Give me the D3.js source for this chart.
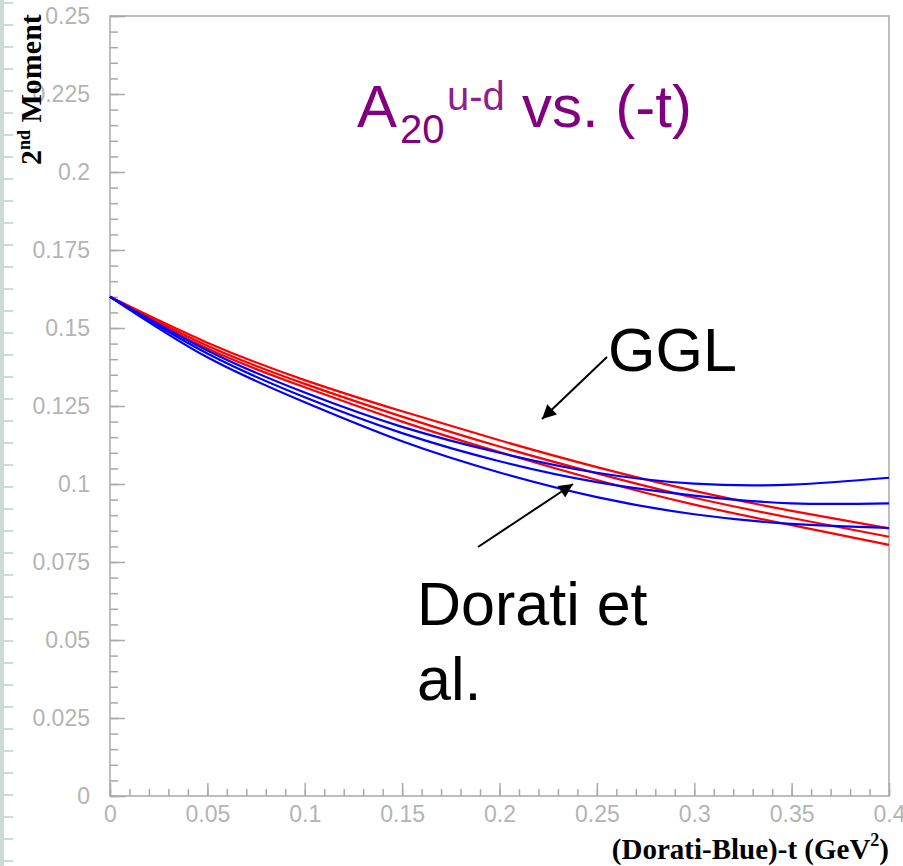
<!DOCTYPE html>
<html>
<head>
<meta charset="utf-8">
<script src="https://cdn.jsdelivr.net/npm/d3@7"></script>
<style>
  html, body { margin: 0; padding: 0; background: #fff; }
  svg { display: block; }
  .tick-label { font-family: 'Liberation Sans', Arial, Helvetica, sans-serif; font-size: 23px; }
</style>
</head>
<body>
<svg id="chart" width="903" height="866"></svg>
<script>
// -t values (GeV^2) where each curve is sampled
const tValues = [0, 0.05, 0.10, 0.15, 0.20, 0.25, 0.30, 0.35, 0.40];

// GGL model band (red)
const gglUpper = [0.160, 0.1453, 0.1333, 0.1233, 0.1140, 0.1054, 0.0978, 0.0914, 0.0858];
const gglMid   = [0.160, 0.1443, 0.1321, 0.1216, 0.1120, 0.1034, 0.0956, 0.0891, 0.0831];
const gglLower = [0.160, 0.1434, 0.1310, 0.1200, 0.1102, 0.1013, 0.0934, 0.0868, 0.0805];

// Dorati et al. band (blue)
const doratiUpper = [0.160, 0.1428, 0.1293, 0.1183, 0.1100, 0.1036, 0.1001, 0.0998, 0.1020];
const doratiMid   = [0.160, 0.1418, 0.1278, 0.1163, 0.1073, 0.1006, 0.0963, 0.0938, 0.0938];
const doratiLower = [0.160, 0.1406, 0.1262, 0.1137, 0.1037, 0.0958, 0.0903, 0.0872, 0.0859];

// Axis ticks
const xMajorTicks = [0, 0.05, 0.1, 0.15, 0.2, 0.25, 0.3, 0.35, 0.4];
const xTickLabels = ["0", "0.05", "0.1", "0.15", "0.2", "0.25", "0.3", "0.35", "0.4"];
const yMajorTicks = [0, 0.025, 0.05, 0.075, 0.1, 0.125, 0.15, 0.175, 0.2, 0.225, 0.25];
const yTickLabels = ["0", "0.025", "0.05", "0.075", "0.1", "0.125", "0.15", "0.175", "0.2", "0.225", "0.25"];

const svg = d3.select("#chart");

const x = d3.scaleLinear().domain([0, 0.4]).range([110, 889]);
const y = d3.scaleLinear().domain([0, 0.25]).range([796, 16]);

const axisColor = "#a9a9a9";
const labelColor = "#b4b4b4";
const sans = "'Liberation Sans', Arial, Helvetica, sans-serif";
const serif = "'Liberation Serif', 'Times New Roman', Times, serif";

// Decorative ruler strip along the left page edge
const strip = svg.append("g").attr("stroke", "#cddbd5");
strip.append("line").attr("x1", 2).attr("x2", 2).attr("y1", 0).attr("y2", 866).attr("stroke-width", 4);
d3.range(3, 866, 22).forEach(yy => {
  strip.append("line").attr("x1", 0).attr("x2", 13).attr("y1", yy).attr("y2", yy).attr("stroke-width", 2);
});

// Frame
svg.append("rect")
  .attr("x", x(0)).attr("y", y(0.25))
  .attr("width", x(0.4) - x(0)).attr("height", y(0) - y(0.25))
  .attr("fill", "none").attr("stroke", axisColor).attr("stroke-width", 1.5);

// Y axis: major ticks with labels, minor ticks inside
const yMinor = d3.range(0, 0.2501, 0.005);
svg.append("g")
  .attr("transform", `translate(${x(0)},0)`)
  .call(d3.axisLeft(y).tickValues(yMinor).tickSize(-8).tickFormat(""))
  .call(g => g.select(".domain").remove())
  .call(g => g.selectAll("line").attr("stroke", axisColor).attr("stroke-width", 1.5));

svg.append("g")
  .attr("transform", `translate(${x(0)},0)`)
  .call(d3.axisLeft(y).tickValues(yMajorTicks).tickSize(-15).tickPadding(20)
    .tickFormat((d, i) => yTickLabels[i]))
  .attr("font-size", 23).attr("font-family", sans)
  .call(g => g.select(".domain").remove())
  .call(g => g.selectAll("line").attr("stroke", axisColor).attr("stroke-width", 1.5))
  .call(g => g.selectAll("text").attr("fill", labelColor).attr("class", "tick-label"));

// X axis: major ticks with labels, minor ticks inside
const xMinor = d3.range(0, 0.4001, 0.01);
svg.append("g")
  .attr("transform", `translate(0,${y(0)})`)
  .call(d3.axisBottom(x).tickValues(xMinor).tickSize(-7).tickFormat(""))
  .call(g => g.select(".domain").remove())
  .call(g => g.selectAll("line").attr("stroke", axisColor).attr("stroke-width", 1.5));

svg.append("g")
  .attr("transform", `translate(0,${y(0)})`)
  .call(d3.axisBottom(x).tickValues(xMajorTicks).tickSize(-13).tickPadding(10)
    .tickFormat((d, i) => xTickLabels[i]))
  .attr("font-size", 23).attr("font-family", sans)
  .call(g => g.select(".domain").remove())
  .call(g => g.selectAll("line").attr("stroke", axisColor).attr("stroke-width", 1.5))
  .call(g => g.selectAll("text").attr("fill", labelColor).attr("class", "tick-label"));

// Curves
const line = d3.line()
  .x((d, i) => x(tValues[i]))
  .y(d => y(d))
  .curve(d3.curveNatural);

const curves = [
  { values: gglUpper, color: "#ff0000" },
  { values: gglMid, color: "#ff0000" },
  { values: gglLower, color: "#ff0000" },
  { values: doratiUpper, color: "#0000ff" },
  { values: doratiMid, color: "#0000ff" },
  { values: doratiLower, color: "#0000ff" }
];

svg.append("g").selectAll("path")
  .data(curves)
  .join("path")
  .attr("d", d => line(d.values))
  .attr("fill", "none")
  .attr("stroke", d => d.color)
  .attr("stroke-width", 2.2);

// Title: A_20^{u-d} vs. (-t)
const purple = "#800080";
const title = svg.append("g").attr("fill", purple).style("font-family", sans);
title.append("text").attr("x", 357).attr("y", 127).style("font-size", "60px").text("A");
title.append("text").attr("x", 400).attr("y", 143).style("font-size", "40px").text("20");
title.append("text").attr("x", 447).attr("y", 110).style("font-size", "40px").attr("fill", "#8e1f8e").text("u-d");
title.append("text").attr("x", 522).attr("y", 127).style("font-size", "60px").text("vs. (-t)");

// Annotations
const defs = svg.append("defs");
defs.append("marker")
  .attr("id", "arrowhead")
  .attr("viewBox", "0 0 10 10")
  .attr("refX", 10).attr("refY", 5)
  .attr("markerWidth", 8).attr("markerHeight", 7)
  .attr("markerUnits", "strokeWidth")
  .attr("orient", "auto")
  .append("path").attr("d", "M0,0 L10,5 L0,10 Z").attr("fill", "#000");

svg.append("line")
  .attr("x1", 607).attr("y1", 357).attr("x2", 542).attr("y2", 419)
  .attr("stroke", "#000").attr("stroke-width", 2).attr("marker-end", "url(#arrowhead)");
svg.append("line")
  .attr("x1", 478).attr("y1", 547).attr("x2", 573).attr("y2", 484)
  .attr("stroke", "#000").attr("stroke-width", 2).attr("marker-end", "url(#arrowhead)");

const notes = svg.append("g").attr("fill", "#000").style("font-family", sans).style("font-size", "61px");
notes.append("text").attr("x", 608).attr("y", 371).text("GGL");
notes.append("text").attr("x", 417).attr("y", 625).text("Dorati et");
notes.append("text").attr("x", 417).attr("y", 700).text("al.");

// Axis titles
const yTitle = svg.append("text")
  .attr("transform", "translate(41,165) rotate(-90)")
  .attr("fill", "#000")
  .style("font-family", serif).style("font-weight", "bold").style("font-size", "30px");
yTitle.append("tspan").text("2");
yTitle.append("tspan").attr("dy", -11).style("font-size", "18px").text("nd");
yTitle.append("tspan").attr("dy", 11).text(" Moment");

const xTitle = svg.append("text")
  .attr("x", 889).attr("y", 859)
  .attr("text-anchor", "end")
  .attr("fill", "#000")
  .style("font-family", serif).style("font-weight", "bold").style("font-size", "29px");
xTitle.append("tspan").text("(Dorati-Blue)-t (GeV");
xTitle.append("tspan").attr("dy", -13).style("font-size", "18px").text("2");
xTitle.append("tspan").attr("dy", 13).text(")");
</script>
</body>
</html>
